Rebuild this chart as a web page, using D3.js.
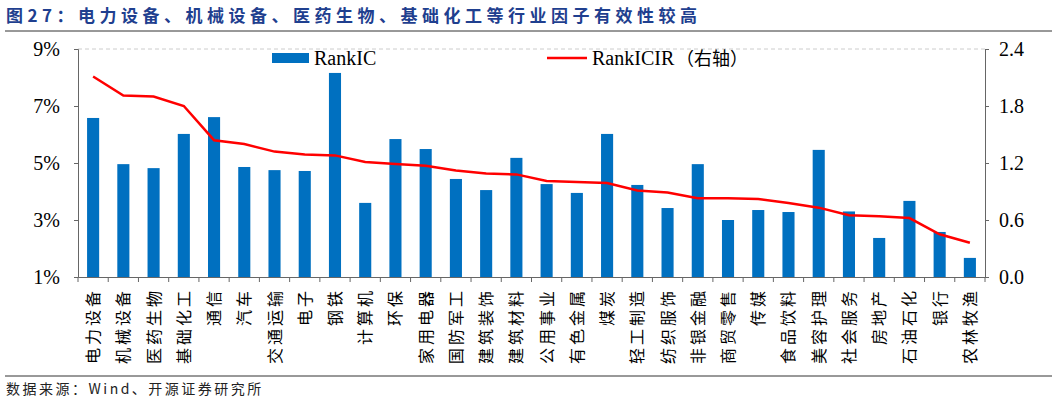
<!DOCTYPE html>
<html><head><meta charset="utf-8">
<script src="https://cdn.jsdelivr.net/npm/d3@7"></script>
<style>body{margin:0;background:#fff}svg{display:block}</style></head>
<body><svg id="c" width="1057" height="405"></svg>
<script>
const categories=["电力设备","机械设备","医药生物","基础化工","通信","汽车","交通运输","电子","钢铁","计算机","环保","家用电器","国防军工","建筑装饰","建筑材料","公用事业","有色金属","煤炭","轻工制造","纺织服饰","非银金融","商贸零售","传媒","食品饮料","美容护理","社会服务","房地产","石油石化","银行","农林牧渔"];
const rankIC=[6.58,4.96,4.82,6.02,6.61,4.86,4.75,4.72,8.16,3.6,5.84,5.49,4.44,4.05,5.18,4.26,3.95,6.02,4.23,3.42,4.96,3.0,3.35,3.28,5.46,3.3,2.37,3.67,2.58,1.67];
const rankICIR=[2.11,1.91,1.90,1.80,1.44,1.40,1.32,1.29,1.28,1.21,1.19,1.17,1.12,1.09,1.08,1.01,1.00,0.99,0.91,0.89,0.83,0.83,0.82,0.78,0.73,0.65,0.64,0.62,0.45,0.36];
const leftTicks=[1,3,5,7,9];
const rightTicks=[0,0.6,1.2,1.8,2.4];
const svg=d3.select("#c");
const L=78,R=985,T=49,B=277;
const serif="'Liberation Serif','Times New Roman',serif";
const cjk="'Noto Sans CJK SC',sans-serif";
const x=d3.scaleBand().domain(categories).range([L,R]).paddingInner(0.6).paddingOuter(0.3);
const y=d3.scaleLinear().domain([1,9]).range([B,T]);
const y2=d3.scaleLinear().domain([0,2.4]).range([B,T]);
svg.append("text").attr("x",6).attr("y",22).attr("fill","#1f3f8f").attr("font-family",cjk).attr("font-weight","bold").attr("font-size",17).attr("letter-spacing",4.5).text("图27：电力设备、机械设备、医药生物、基础化工等行业因子有效性较高");
svg.append("line").attr("x1",5).attr("x2",1052).attr("y1",31).attr("y2",31).attr("stroke","#333").attr("stroke-width",1);
svg.append("line").attr("x1",5).attr("x2",1052).attr("y1",376).attr("y2",376).attr("stroke","#333").attr("stroke-width",1);
svg.append("text").attr("x",6).attr("y",394).attr("fill","#222").attr("font-family",cjk).attr("font-size",14).attr("letter-spacing",2.5).text("数据来源：Wind、开源证券研究所");
svg.append("line").attr("x1",L).attr("x2",R).attr("y1",T).attr("y2",T).attr("stroke","#ccc").attr("stroke-dasharray","4,3");
svg.selectAll(".b").data(categories).enter().append("rect").attr("x",d=>x(d)).attr("width",x.bandwidth())
 .attr("y",(d,i)=>y(rankIC[i])).attr("height",(d,i)=>B-y(rankIC[i])).attr("fill","#0070c0");
svg.append("path").datum(rankICIR).attr("fill","none").attr("stroke","#ff0000").attr("stroke-width",2.5)
 .attr("d",d3.line().x((d,i)=>x(categories[i])+x.bandwidth()/2).y(d=>y2(d)));
const gl=svg.append("g").attr("transform",`translate(${L},0)`).call(d3.axisLeft(y).tickValues(leftTicks).tickFormat(d=>d+"%").tickSize(4).tickPadding(14));
const gr=svg.append("g").attr("transform",`translate(${R},0)`).call(d3.axisRight(y2).tickValues(rightTicks).tickFormat(d3.format(".1f")).tickSize(4).tickPadding(10));
const gb=svg.append("g").attr("transform",`translate(0,${B})`).call(d3.axisBottom(x).tickSize(0).tickFormat(""));
[gl,gr,gb].forEach(g=>{g.selectAll("path,line").attr("stroke","#666");g.selectAll("text").attr("font-family",serif).attr("font-size",20).attr("fill","#000");});
svg.selectAll(".bt").data(d3.range(categories.length+1)).enter().append("line")
 .attr("x1",i=>L+i*(R-L)/categories.length).attr("x2",i=>L+i*(R-L)/categories.length).attr("y1",B).attr("y2",B+5).attr("stroke","#666");
svg.selectAll(".cl").data(categories).enter().append("text")
 .attr("transform",d=>`translate(${x(d)+x.bandwidth()/2+6},288) rotate(-90)`)
 .attr("text-anchor","end").attr("font-family",cjk).attr("font-size",16).attr("letter-spacing",3).attr("fill","#000").text(d=>d);
svg.append("rect").attr("x",272).attr("y",53).attr("width",37).attr("height",10).attr("fill","#0070c0");
svg.append("text").attr("x",314).attr("y",65).attr("font-family",serif).attr("font-size",20).text("RankIC");
svg.append("line").attr("x1",547).attr("x2",587).attr("y1",58).attr("y2",58).attr("stroke","#ff0000").attr("stroke-width",2.5);
svg.append("text").attr("x",592).attr("y",65).attr("font-family",serif).attr("font-size",20).text("RankICIR");
svg.append("text").attr("x",676).attr("y",65).attr("font-family",cjk).attr("font-size",18).text("（右轴）");
</script></body></html>
